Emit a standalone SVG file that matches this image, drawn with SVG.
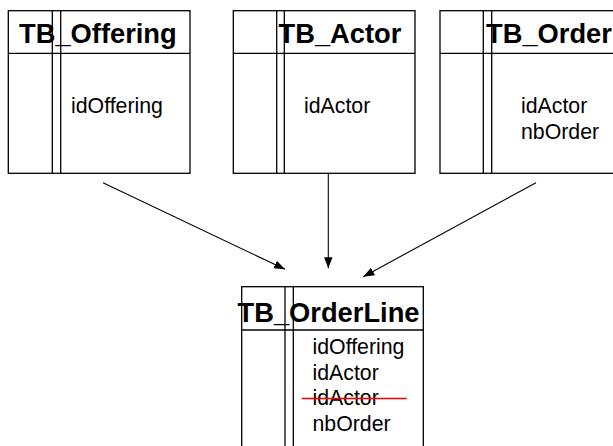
<svg xmlns="http://www.w3.org/2000/svg" width="613" height="446" viewBox="0 0 613 446">
  <style>
    .frame { fill: #ffffff; stroke: #000000; stroke-width: 1.3; }
    .rule { stroke: #000000; stroke-width: 1.3; fill: none; }
    .title { font-family: "Liberation Sans", Arial, sans-serif; font-weight: bold; font-size: 27.3px; fill: #000000; }
    .field { font-family: "Liberation Sans", Arial, sans-serif; font-size: 21.3px; fill: #000000; }
    .link { stroke: #000000; stroke-width: 1.1; fill: none; marker-end: url(#head); }
    .strike { stroke: #ff0000; stroke-width: 1.3; }
  </style>
  <defs>
    <marker id="head" markerUnits="userSpaceOnUse" markerWidth="12" markerHeight="10" viewBox="0 0 12 10" refX="11" refY="5" orient="auto">
      <path d="M0,0.8 L11,5 L0,9.2 Z" fill="#000000"/>
    </marker>
  </defs>
  <rect width="613" height="446" fill="#ffffff"/>

  <g id="tb-offering">
    <rect class="frame" x="8.3" y="10.7" width="181.7" height="162.6"/>
    <line class="rule" x1="8.3" y1="53.3" x2="190" y2="53.3"/>
    <line class="rule" x1="52.3" y1="10.7" x2="52.3" y2="173.3"/>
    <line class="rule" x1="60.7" y1="10.7" x2="60.7" y2="173.3"/>
    <text class="title" x="19" y="42.7">TB_Offering</text>
    <text class="field" x="71" y="113">idOffering</text>
  </g>

  <g id="tb-actor">
    <rect class="frame" x="233.3" y="10.7" width="181.7" height="162.6"/>
    <line class="rule" x1="233.3" y1="53.3" x2="415" y2="53.3"/>
    <line class="rule" x1="276.7" y1="10.7" x2="276.7" y2="173.3"/>
    <line class="rule" x1="284.3" y1="10.7" x2="284.3" y2="173.3"/>
    <text class="title" x="278.5" y="42.7">TB_Actor</text>
    <text class="field" x="304" y="113">idActor</text>
  </g>

  <g id="tb-order">
    <rect class="frame" x="440" y="10.7" width="190" height="162.6"/>
    <line class="rule" x1="440" y1="53.3" x2="630" y2="53.3"/>
    <line class="rule" x1="483.3" y1="10.7" x2="483.3" y2="173.3"/>
    <line class="rule" x1="491.7" y1="10.7" x2="491.7" y2="173.3"/>
    <text class="title" x="486" y="42.7">TB_Order</text>
    <text class="field" x="521" y="113">idActor</text>
    <text class="field" x="521" y="138.6">nbOrder</text>
  </g>

  <g id="tb-orderline">
    <rect class="frame" x="241.7" y="286.7" width="181.6" height="180"/>
    <line class="rule" x1="241.7" y1="330" x2="423.3" y2="330"/>
    <line class="rule" x1="285" y1="286.7" x2="285" y2="466"/>
    <line class="rule" x1="293.3" y1="286.7" x2="293.3" y2="466"/>
    <text class="title" x="237.5" y="321.7">TB_OrderLine</text>
    <text class="field" x="312.5" y="354">idOffering</text>
    <text class="field" x="312.5" y="379.6">idActor</text>
    <text class="field" x="312.5" y="405.2">idActor</text>
    <text class="field" x="312.5" y="430.8">nbOrder</text>
    <line class="strike" x1="301.7" y1="398.5" x2="406.7" y2="398.5"/>
  </g>

  <g id="connectors">
    <line class="link" x1="103" y1="182.7" x2="285" y2="269.3"/>
    <line class="link" x1="328.3" y1="173.3" x2="328.3" y2="268.3"/>
    <line class="link" x1="536" y1="182.7" x2="363.3" y2="276.7"/>
  </g>
</svg>
